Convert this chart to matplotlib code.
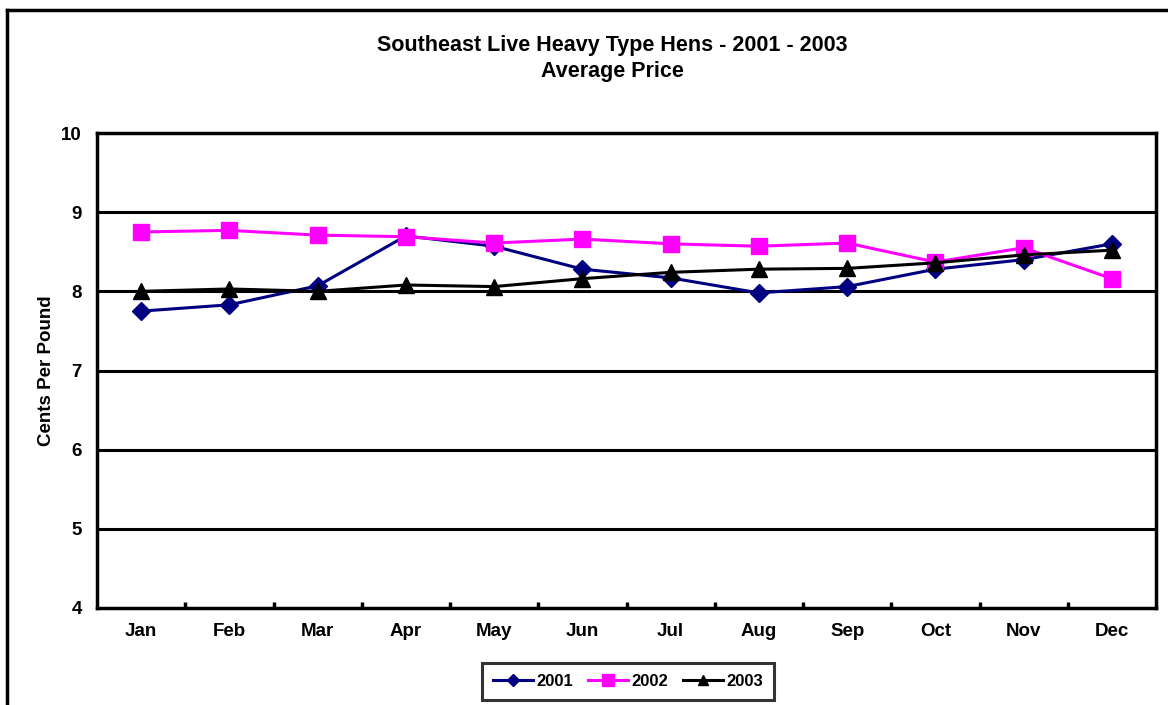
import matplotlib
matplotlib.use("Agg")
import matplotlib.pyplot as plt
from matplotlib.lines import Line2D
import numpy as np

plt.rcParams['font.family'] = ['Liberation Sans', 'DejaVu Sans']

months = ["Jan", "Feb", "Mar", "Apr", "May", "Jun", "Jul", "Aug", "Sep", "Oct", "Nov", "Dec"]
y2001 = [7.75, 7.83, 8.07, 8.70, 8.57, 8.28, 8.17, 7.98, 8.06, 8.28, 8.40, 8.60]
y2002 = [8.75, 8.77, 8.71, 8.69, 8.61, 8.66, 8.60, 8.57, 8.61, 8.37, 8.55, 8.16]
y2003 = [8.00, 8.03, 8.00, 8.08, 8.06, 8.16, 8.24, 8.28, 8.29, 8.36, 8.46, 8.52]
yticks = [4, 5, 6, 7, 8, 9, 10]

W, H = 1168, 705
fig = plt.figure(figsize=(W / 100, H / 100), dpi=100)
ax = fig.add_axes([97 / W, 1 - 608 / H, (1156 - 97) / W, (608 - 133) / H])

x = np.arange(len(months))
ax.plot(x, y2001, color='#000080', lw=2.2, marker='D', ms=9.5, label='2001', zorder=3)
ax.plot(x, y2002, color='#FF00FF', lw=2.2, marker='s', ms=11.5, label='2002', zorder=4)
ax.plot(x, y2003, color='black', lw=2.2, marker='^', ms=11.5, label='2003', zorder=5)

ax.set_xlim(-0.5, len(months) - 0.5)
ax.set_ylim(4, 10)
ax.set_yticks(yticks)
ax.set_yticklabels([str(v) for v in yticks], fontsize=13.5, fontweight='bold')
ax.set_xticks(x)
ax.set_xticklabels(months, fontsize=13.5, fontweight='bold')
ax.tick_params(axis='x', length=0, pad=11)
ax.tick_params(axis='y', length=0, pad=11)
ax.set_xticks(np.arange(0.5, len(months) - 1, 1), minor=True)
ax.tick_params(axis='x', which='minor', direction='in', length=4, width=2.5)
for yv in yticks[1:-1]:
    ax.axhline(yv, color='black', lw=2.2, zorder=1)
for s in ax.spines.values():
    s.set_linewidth(2.5)
ax.set_ylabel('Cents Per Pound', fontsize=13.5, fontweight='bold')
ax.yaxis.set_label_coords(-0.040, 0.5)

fig.text(612 / W, 1 - 46 / H, 'Southeast Live Heavy Type Hens - 2001 - 2003',
         ha='center', va='center', fontsize=15.5, fontweight='bold')
fig.text(612 / W, 1 - 71 / H, 'Average Price',
         ha='center', va='center', fontsize=15.5, fontweight='bold')

# outer chart-area frame (left and top visible)
fig.add_artist(Line2D([7 / W, 7 / W], [0, 1 - 10 / H], color='black', lw=2.5, transform=fig.transFigure))
fig.add_artist(Line2D([7 / W, 1], [1 - 10 / H, 1 - 10 / H], color='black', lw=2.5, transform=fig.transFigure))

handles = [
    Line2D([], [], color='#000080', lw=2.2, marker='D', ms=6),
    Line2D([], [], color='#FF00FF', lw=2.2, marker='s', ms=8),
    Line2D([], [], color='black', lw=2.2, marker='^', ms=7),
]
leg = fig.legend(handles, ['2001', '2002', '2003'], loc='center', bbox_to_anchor=(628 / W, 1 - 681.5 / H),
                 ncol=3, frameon=True, fancybox=False, edgecolor='black',
                 prop={'size': 12, 'weight': 'bold'}, handlelength=2.4, handletextpad=0.2,
                 columnspacing=0.9, borderpad=0.65, borderaxespad=0)
leg.get_frame().set_linewidth(2.2)

fig.savefig('out.png', dpi=100)
